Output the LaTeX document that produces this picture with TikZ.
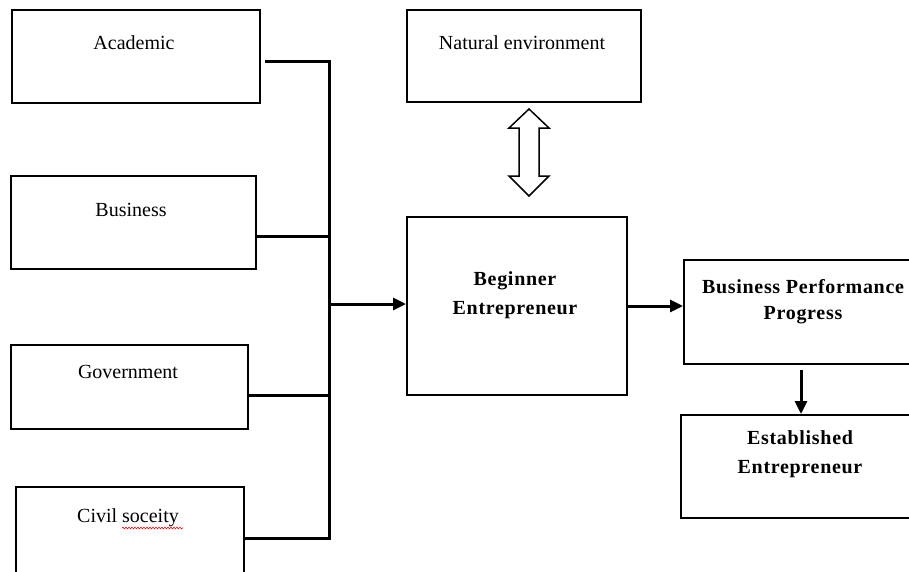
\documentclass[tikz,border=0pt]{standalone}
\usepackage{fontspec}
\setmainfont{Liberation Serif}
\newfontfamily\spacedbold[LetterSpace=3.5]{Liberation Serif}
\usetikzlibrary{arrows.meta,decorations.pathmorphing}
\begin{document}
\begin{tikzpicture}[x=1pt,y=-1pt,
  box/.style={draw,line width=2pt,rectangle,inner sep=0pt,anchor=north west},
  lab/.style={font=\fontsize{20}{24}\selectfont, inner sep=0pt},
  blab/.style={font=\spacedbold\bfseries\fontsize{20}{29}\selectfont, align=center, inner sep=0pt},
  conn/.style={line width=3pt,line join=miter},
  arr/.style={line width=3pt,-{Triangle[length=13pt,width=12pt]}}]
\useasboundingbox (0,0) rectangle (909,571);
\clip (0,0) rectangle (909,571);
\fill[white] (0,0) rectangle (909,571);
% boxes
\node[box, minimum width=248pt, minimum height=93pt] (acad) at (11,9) {};
\node[box, minimum width=245pt, minimum height=93pt] (busi) at (10,175) {};
\node[box, minimum width=237pt, minimum height=84pt] (gov) at (10,344) {};
\node[box, minimum width=228pt, minimum height=120pt] (civ) at (15,486) {};
\node[box, minimum width=234pt, minimum height=92pt] (nat) at (406,9) {};
\node[box, minimum width=220pt, minimum height=178pt] (beg) at (406,216) {};
\node[box, minimum width=240pt, minimum height=104pt] (bpp) at (683,259) {};
\node[box, minimum width=240pt, minimum height=103pt] (est) at (680,414) {};
% texts
\node[lab] (tacad) at (134,43) {Academic};
\node[lab] (tbusi) at (131,210) {Business};
\node[lab] (tgov) at (128,372) {Government};
\node[lab] (tciv) at (128,518) {Civil soceity};
\node[lab] (tnat) at (522,43) {Natural environment};
\node[blab] (tbeg) at (515,295) {Beginner\\Entrepreneur};
\node[blab, font=\spacedbold\bfseries\fontsize{20}{26}\selectfont] (tbpp) at (803,302) {Business Performance\\Progress};
\node[blab] (test) at (800,454) {Established\\Entrepreneur};
\draw[red, line width=0.6pt, decorate, decoration={snake, amplitude=0.8pt, segment length=3pt}] (122,528) -- (183,528);
% bus
\coordinate (bustop) at (329,61);
\coordinate (busbot) at (329,538);
\coordinate (jb) at (329,236);
\coordinate (jg) at (329,395);
\coordinate (ja) at (329,304);
\draw[conn] ([xshift=4pt]acad.east |- bustop) -- (bustop) -- (busbot) -- (civ.east |- busbot);
\draw[conn] (busi.east |- jb) -- (jb);
\draw[conn] (gov.east |- jg) -- (jg);
\draw[arr] (ja) -- (beg.west |- ja);
\draw[arr] (beg.east) -- (bpp.west |- beg.east);
\coordinate (dtop) at (801,370);
\draw[arr] (dtop) -- (dtop |- est.north);
% double arrow
\draw[line width=1.5pt, line join=miter, fill=white]
  (529,109) -- (549,128) -- (539,128) -- (539,176) -- (549,176) -- (529,196)
  -- (509,176) -- (519,176) -- (519,128) -- (509,128) -- cycle;
\end{tikzpicture}
\end{document}
